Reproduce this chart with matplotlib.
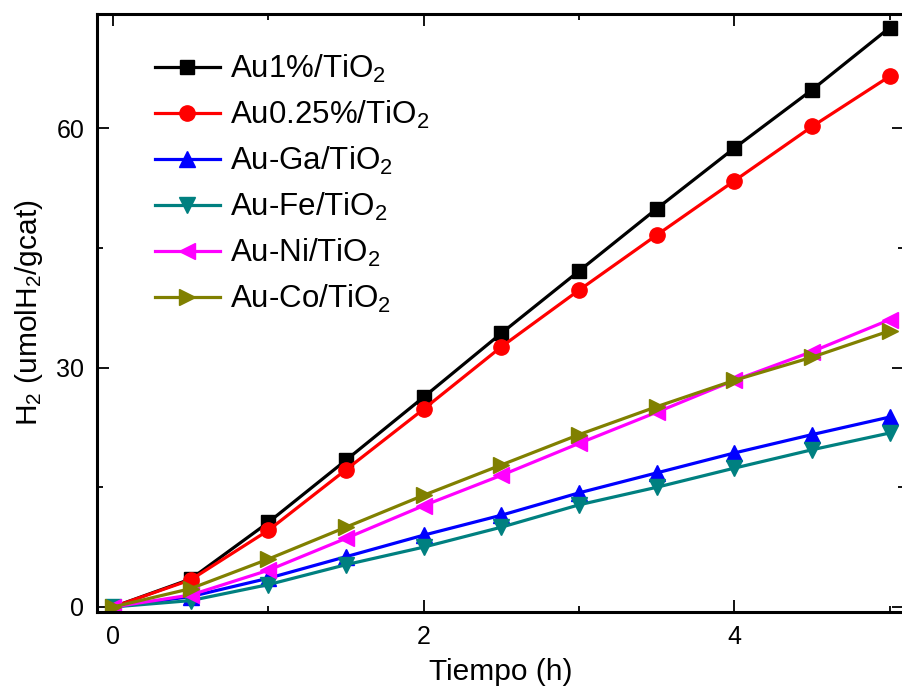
import numpy as np
import matplotlib
matplotlib.use('Agg')
from matplotlib import pyplot as plt

plt.rcParams['font.family'] = ['Liberation Sans', 'DejaVu Sans']
plt.rcParams['mathtext.fontset'] = 'custom'
plt.rcParams['mathtext.rm'] = 'Liberation Sans'
plt.rcParams['mathtext.it'] = 'Liberation Sans:italic'
plt.rcParams['mathtext.default'] = 'regular'

# time (h)
tiempo = [0, 0.5, 1, 1.5, 2, 2.5, 3, 3.5, 4, 4.5, 5]

au1 = [0, 3.5, 10.6, 18.4, 26.3, 34.3, 42.1, 49.9, 57.5, 64.8, 72.6]
au025 = [0, 3.4, 9.6, 17.2, 24.8, 32.6, 39.7, 46.6, 53.4, 60.2, 66.5]
au_ga = [0, 1.3, 3.6, 6.3, 9.0, 11.5, 14.3, 16.8, 19.3, 21.6, 23.8]
au_fe = [0, 0.8, 2.8, 5.3, 7.5, 10.0, 12.8, 15.0, 17.4, 19.7, 21.8]
au_ni = [0, 1.5, 4.6, 8.6, 12.7, 16.5, 20.5, 24.4, 28.4, 32.0, 36.0]
au_co = [0, 2.3, 6.0, 10.0, 14.0, 17.8, 21.6, 25.1, 28.4, 31.3, 34.6]

labels = [r"Au1%/TiO$_2$", r"Au0.25%/TiO$_2$", r"Au-Ga/TiO$_2$",
          r"Au-Fe/TiO$_2$", r"Au-Ni/TiO$_2$", r"Au-Co/TiO$_2$"]

series = [au1, au025, au_ga, au_fe, au_ni, au_co]
colors = ['#000000', '#ff0000', '#0000ff', '#008080', '#ff00ff', '#808000']
markers = ['s', 'o', '^', 'v', '<', '>']
msizes = [9.5, 11, 11, 11, 11, 11]

fig = plt.figure(figsize=(9.02, 6.98), dpi=100)
ax = fig.add_axes([0.1075, 0.1232, 0.8945, 0.8568])

for ys, c, m, ms, lab in zip(series, colors, markers, msizes, labels):
    ax.plot(tiempo, ys, color=c, marker=m, markersize=ms, linewidth=2.3,
            label=lab)

ax.set_xlim(-0.103, 5.09)
ax.set_ylim(-0.63, 74.3)
ax.set_xticks([0, 2, 4])
ax.set_xticks([1, 3, 5], minor=True)
ax.set_yticks([0, 30, 60])
ax.set_yticks([15, 45], minor=True)

ax.tick_params(which='both', direction='in', top=True, right=True,
               labelsize=18, width=1.3)
ax.tick_params(which='major', length=8.5, pad=9)
ax.tick_params(which='minor', length=4.5)
for s in ax.spines.values():
    s.set_linewidth(2.2)

ax.set_xlabel("Tiempo (h)", fontsize=21.5, labelpad=7)
ax.set_ylabel(r"H$_2$ (umolH$_2$/gcat)", fontsize=21.5, labelpad=8)

leg = ax.legend(loc='upper left', bbox_to_anchor=(0.056, 0.955),
                frameon=False, fontsize=22.5, handlelength=2.1,
                handletextpad=0.3, labelspacing=0.44, borderaxespad=0)

fig.savefig("out.png", dpi=100)
